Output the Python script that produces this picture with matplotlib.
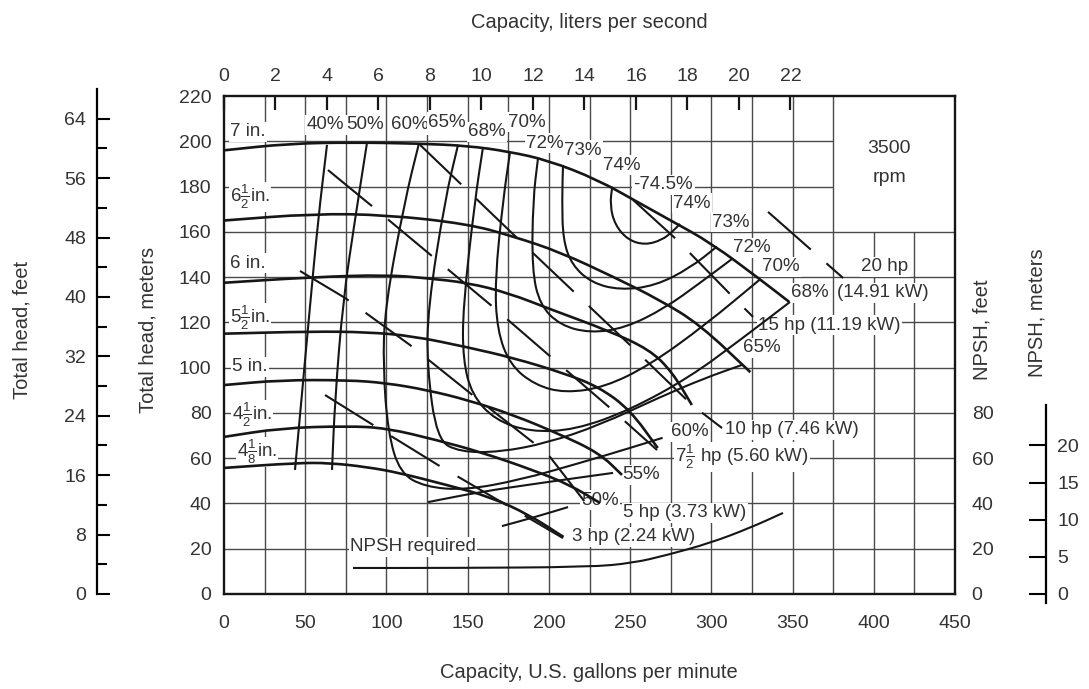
import numpy as np
import matplotlib
matplotlib.use("Agg")
import matplotlib.pyplot as plt
from matplotlib.path import Path
from matplotlib.patches import PathPatch

plt.rcParams['font.family'] = ['Liberation Sans', 'DejaVu Sans']
plt.rcParams['mathtext.fontset'] = 'custom'
plt.rcParams['mathtext.rm'] = 'Liberation Sans'
plt.rcParams['mathtext.it'] = 'Liberation Sans:italic'
plt.rcParams['lines.scale_dashes'] = False

GPM_PER_LPS = 15.850
FT_PER_M = 3.2808

# head-capacity curves, one per impeller diameter (gpm, ft)
q_7in = [0, 40, 80, 120, 150, 175, 200, 230, 255, 275, 300, 330, 348]
h_7in = [196, 199, 199.5, 199, 198, 195.5, 191.5, 183, 173, 165, 155, 139, 129]
q_6h = [0, 55, 100, 150, 178, 207, 240, 268, 293, 324]
h_6h = [165, 168, 167.5, 163.5, 158, 151, 140, 130, 119, 98]
q_6in = [0, 55, 100, 125, 150, 175, 202, 236, 262, 276, 288]
h_6in = [137.5, 140, 141, 139.5, 137.5, 133, 125.5, 116.5, 108, 98, 83.5]
q_5h = [0, 55, 88, 116, 150, 178, 209, 231, 250, 267]
h_5h = [115, 116, 115.7, 114, 109, 104.3, 97.6, 91.4, 81.3, 64.5]
q_5in = [0, 35, 76, 100, 125, 150, 178, 205, 231, 245]
h_5in = [92.3, 94.5, 94.5, 93.2, 90.1, 85.7, 79.1, 71.1, 62.3, 52.6]
q_4h = [0, 35, 76, 100, 131, 158, 190, 213, 231.5]
h_4h = [69.4, 73.3, 74.2, 73.3, 68, 62.7, 54.8, 48.2, 40.2]
q_4e = [0, 45, 65, 88, 108, 137, 164, 188, 209]
h_4e = [55.7, 57.9, 57.9, 56.1, 53.5, 48.2, 42.9, 34.9, 25.2]

# impeller labels (text, gpm, ft)
dia_labels = ['7 in.', r'$6\frac{1}{2}$in.', '6 in.', r'$5\frac{1}{2}$in.',
              '5 in.', r'$4\frac{1}{2}$in.', r'$4\frac{1}{8}$in.']
dia_label_q = [3.7, 3.7, 3.7, 3.7, 4.9, 4.9, 8]
dia_label_h = [204.1, 175.4, 146.2, 121.9, 100.3, 79.1, 62.7]

# efficiency contours (gpm, ft)
e74_q = [239, 237.6, 240.7, 248.7, 259.2, 269.6, 275.8, 280.7]
e74_h = [180, 171.8, 163, 156.4, 154.2, 156.4, 159.9, 163.5]
e73_q = [208.7, 208.1, 208.7, 214.2, 226.5, 243.8, 265.3, 286.9, 303.5]
e73_h = [189.5, 174.1, 156.4, 145.3, 137.4, 134.3, 136.1, 144, 153.5]
e72_q = [193.3, 190.2, 189.6, 194.5, 206.8, 225.3, 246.9, 271.5, 293, 312.7]
e72_h = [192.5, 174.1, 143.1, 127.7, 118.8, 115.3, 117.5, 126.3, 137.4, 148]
e70_q = [176.1, 171.8, 166.8, 168.1, 176.1, 191.5, 209.9, 234.5, 262.2, 296.1, 330]
e70_h = [195.3, 174.1, 138.7, 116.6, 101.2, 92.3, 88.8, 91.4, 101.2, 118.8, 139]
e68_q = [159.4, 154.5, 147.1, 147.1, 152.7, 166.8, 188.4, 216.1, 249.9, 286.9, 317.7, 348.4]
e68_h = [197.2, 174.1, 126.8, 103.4, 87.9, 76.9, 71.6, 72.5, 81.3, 95.9, 112.2, 129]
e65_q = [144.1, 136, 125.6, 125, 131.1, 145.3, 169.9, 198.8, 231.5, 268.4, 296.1, 318.9]
e65_h = [198.5, 174.1, 126.8, 100.3, 68, 62.7, 62.7, 66.7, 74.7, 87, 95.4, 101.2]
e60_q = [120, 111.4, 99.1, 97.9, 101, 108.3, 123.7, 148.4, 182.2, 219.2, 249.9, 270]
e60_h = [199, 174.1, 126.8, 100.3, 71.1, 53.5, 47.3, 45.9, 50.4, 57.9, 64.5, 69]
e55_q = [125.6, 157.6, 194.5, 239.5]
e55_h = [40.6, 45.1, 49, 53.5]
e50_q = [171.1, 191.5, 211.8]
e50_h = [30, 34, 38.4]
e50l_q = [88, 80.6, 73.3, 68.3, 66.5]
e50l_h = [199.2, 165.2, 129.9, 85.7, 54.8]
e40_q = [63.4, 57.9, 52.9, 48.6, 43.7]
e40_h = [198.4, 165.2, 126.8, 93.2, 54.8]

# efficiency labels (text, gpm, ft)
eff_labels = ['40%', '50%', '60%', '65%', '68%', '70%', '72%', '73%', '74%', '-74.5%',
              '74%', '73%', '72%', '70%', '68%', '65%', '60%', '55%', '50%']
eff_label_q = [62.2, 86.8, 114.5, 137.3, 161.9, 186.5, 197.6, 221, 245, 270.5,
               288.1, 312.1, 325, 342.9, 360.7, 331.2, 286.9, 256.7, 231.5]
eff_label_h = [207.2, 207.2, 207.2, 208.5, 204.1, 208.5, 199.2, 196.1, 189.5, 180.7,
               172.7, 164.3, 152.9, 144.5, 133, 108.7, 71.6, 52.6, 41.5]

# brake horsepower lines (gpm, ft)
hp20_q = [334.9, 381.1]
hp20_h = [168.8, 139.6]
hp15_q = [251.8, 278.9, 313.3, 325.7]
hp15_h = [174.1, 156.4, 131.2, 122.4]
hp10_q = [120.7, 180.4, 216.1, 249.9, 288.1, 306.6]
hp10_h = [198.4, 157.3, 133, 110, 83.5, 73.3]
hp75_q = [64, 91.7, 128.7, 165.6, 201.9, 237.6, 266.6]
hp75_h = [187.3, 171, 148.9, 126.8, 104.3, 82.2, 63.6]
hp5_q = [46.8, 74.5, 114.5, 151.4, 188.4, 198.8, 228.4]
hp5_h = [142.7, 130.8, 110, 88.8, 68, 62.3, 34.9]
hp3_q = [62.2, 91.7, 131.7, 208.7]
hp3_h = [87.9, 74.7, 57, 24.7]

hp_labels = ['15 hp (11.19 kW)', '10 hp (7.46 kW)', r'$7\frac{1}{2}$ hp (5.60 kW)',
             '5 hp (3.73 kW)', '3 hp (2.24 kW)']
hp_label_q = [328.7, 308.4, 277.6, 245.6, 214.2]
hp_label_h = [118.8, 72.5, 60.5, 35.8, 25.2]

# NPSH required (gpm, ft)
npsh_q = [79.4, 139, 225.3, 251.8, 272.7, 299.2, 323.8, 344.1]
npsh_h = [11.5, 11.5, 11.9, 13.7, 17.2, 22.5, 29.2, 35.8]


def smooth_curve(ax, q, h, **kw):
    # quadratic bezier through segment midpoints, read points act as control points
    pts = np.column_stack([q, h]).astype(float)
    if len(pts) < 3:
        ax.plot(q, h, **kw)
        return
    mids = (pts[:-1] + pts[1:]) / 2
    verts = [pts[0], mids[0]]
    codes = [Path.MOVETO, Path.LINETO]
    for i in range(1, len(pts) - 1):
        verts += [pts[i], mids[i]]
        codes += [Path.CURVE3, Path.CURVE3]
    verts.append(pts[-1])
    codes.append(Path.LINETO)
    patch = PathPatch(Path(verts, codes), fill=False, edgecolor=kw.get('color'),
                      lw=kw.get('lw'), zorder=kw.get('zorder'),
                      capstyle='butt', joinstyle='round')
    ax.add_patch(patch)


W, H = 1089, 689
fig = plt.figure(figsize=(W / 100, H / 100), dpi=100)
left, right, top, bottom = 224 / W, 955 / W, 96 / H, 594 / H
ax = fig.add_axes([left, 1 - bottom, right - left, bottom - top])
ax.set_xlim(0, 450)
ax.set_ylim(0, 220)
ink = '#161616'
grid_c = '#4a4a4a'

# grid, with an empty box for the speed note in the upper right
ax.vlines(np.arange(25, 376, 25), 0, 220, color=grid_c, lw=1.0, zorder=1)
ax.vlines([400, 425], 0, 160, color=grid_c, lw=1.0, zorder=1)
ax.hlines(np.arange(20, 161, 20), 0, 450, color=grid_c, lw=1.0, zorder=1)
ax.hlines([180, 200], 0, 375, color=grid_c, lw=1.0, zorder=1)

white = dict(facecolor='white', edgecolor='none', pad=1.0)
fs = 13.5
tc = '#333333'

heads = [(q_7in, h_7in), (q_6h, h_6h), (q_6in, h_6in), (q_5h, h_5h),
         (q_5in, h_5in), (q_4h, h_4h), (q_4e, h_4e)]
for q, h in heads:
    smooth_curve(ax, q, h, color=ink, lw=1.9, zorder=4)
for t, q, h in zip(dia_labels, dia_label_q, dia_label_h):
    ax.text(q, h, t, fontsize=fs, ha='left', va='center', color=tc,
            bbox=white, zorder=2)

effs = [(e74_q, e74_h), (e73_q, e73_h), (e72_q, e72_h), (e70_q, e70_h),
        (e68_q, e68_h), (e65_q, e65_h), (e60_q, e60_h), (e55_q, e55_h),
        (e50_q, e50_h), (e50l_q, e50l_h), (e40_q, e40_h)]
for q, h in effs:
    smooth_curve(ax, q, h, color=ink, lw=1.5, zorder=3)
for t, q, h in zip(eff_labels, eff_label_q, eff_label_h):
    ax.text(q, h, t, fontsize=fs, ha='center', va='center', color=tc,
            bbox=white, zorder=2)

hps = [(hp20_q, hp20_h), (hp15_q, hp15_h), (hp10_q, hp10_h),
       (hp75_q, hp75_h), (hp5_q, hp5_h), (hp3_q, hp3_h)]
for q, h in hps:
    ax.plot(q, h, color=ink, lw=1.5, ls=(0, (41, 15)), zorder=3)
for t, q, h in zip(hp_labels, hp_label_q, hp_label_h):
    ax.text(q, h, t, fontsize=fs, ha='left', va='center', color=tc,
            bbox=white, zorder=2)
ax.text(406.9, 144.5, '20 hp', fontsize=fs, ha='center', va='center',
        color=tc, bbox=white, zorder=2)
ax.text(405.7, 133, '(14.91 kW)', fontsize=fs, ha='center', va='center',
        color=tc, bbox=white, zorder=2)

smooth_curve(ax, npsh_q, npsh_h, color=ink, lw=1.5, zorder=3)
ax.text(77.6, 20.8, 'NPSH required', fontsize=fs, ha='left', va='center',
        color=tc, bbox=white, zorder=2)

ax.text(409.4, 197, '3500', fontsize=14, ha='center', va='center', color=tc)
ax.text(409.4, 183.8, 'rpm', fontsize=14, ha='center', va='center', color=tc)

for s in ax.spines.values():
    s.set_linewidth(1.7)
    s.set_color(ink)
ax.set_xticks(np.arange(0, 451, 50))
ax.set_yticks(np.arange(0, 221, 20))
ax.tick_params(axis='x', length=0, pad=15, labelsize=14, labelcolor=tc)
ax.tick_params(axis='y', length=0, pad=9, labelsize=14, labelcolor=tc)

# top: capacity in liters per second
secx = ax.secondary_xaxis('top', functions=(lambda q: q / GPM_PER_LPS,
                                            lambda l: l * GPM_PER_LPS))
secx.set_xticks(np.arange(0, 23, 2))
secx.tick_params(direction='in', length=10, width=1.6, pad=8, labelsize=14,
                 labelcolor=tc, color=ink)
secx.spines['top'].set_visible(False)

# right: NPSH in feet
secy = ax.secondary_yaxis('right')
secy.set_yticks([0, 20, 40, 60, 80])
secy.tick_params(length=0, pad=12, labelsize=14, labelcolor=tc)
secy.spines['right'].set_visible(False)

# far left: head in meters scale
axl = fig.add_axes([97 / W, 1 - bottom, 0.0001, bottom - top])
axl.set_ylim(0, 220 / FT_PER_M)
axl.patch.set_visible(False)
for s in ['top', 'right', 'bottom']:
    axl.spines[s].set_visible(False)
axl.spines['left'].set_linewidth(1.6)
axl.spines['left'].set_bounds(0, 68)
axl.set_xticks([])
axl.set_yticks(np.arange(0, 65, 8))
axl.set_yticks(np.arange(4, 65, 8), minor=True)
axl.tick_params(axis='y', which='major', direction='in', length=9, width=1.5,
                pad=8, labelsize=14, labelcolor=tc)
axl.tick_params(axis='y', which='minor', direction='in', length=7, width=1.5)
axl.set_ylim(0, 220 / FT_PER_M)

# far right: NPSH in meters scale
axn = fig.add_axes([1046 / W, 1 - bottom, 0.0001, bottom - top])
axn.set_ylim(0, 220 / FT_PER_M)
axn.patch.set_visible(False)
for s in ['top', 'left', 'bottom']:
    axn.spines[s].set_visible(False)
axn.spines['right'].set_linewidth(1.6)
axn.spines['right'].set_bounds(-1.2, 25.5)
axn.set_xticks([])
axn.yaxis.tick_right()
axn.set_yticks([0, 5, 10, 15, 20])
axn.tick_params(axis='y', direction='in', length=12, width=1.5, pad=8,
                labelsize=14, labelcolor=tc)
axn.set_ylim(0, 220 / FT_PER_M)

# axis titles
fig.text(589 / W, 1 - 22 / H, 'Capacity, liters per second', fontsize=14.5,
         ha='center', va='center', color=tc)
fig.text(589 / W, 1 - 672 / H, 'Capacity, U.S. gallons per minute', fontsize=14.5,
         ha='center', va='center', color=tc)
fig.text(22 / W, 1 - 330 / H, 'Total head, feet', fontsize=14.5, rotation=90,
         ha='center', va='center', color=tc)
fig.text(148 / W, 1 - 330 / H, 'Total head, meters', fontsize=14.5, rotation=90,
         ha='center', va='center', color=tc)
fig.text(982 / W, 1 - 330 / H, 'NPSH, feet', fontsize=14.5, rotation=90,
         ha='center', va='center', color=tc)
fig.text(1037 / W, 1 - 313 / H, 'NPSH, meters', fontsize=14.5, rotation=90,
         ha='center', va='center', color=tc)

fig.savefig('out.png', dpi=100)
